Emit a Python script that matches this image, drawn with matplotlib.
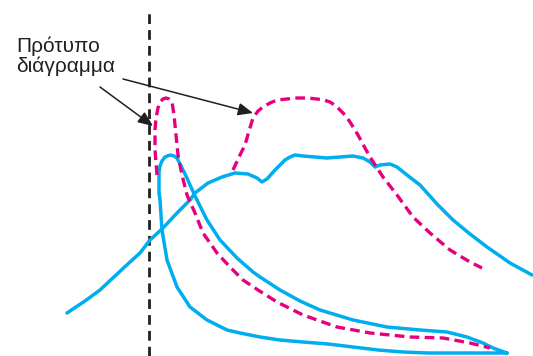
import matplotlib.pyplot as plt

# Curve points (pixel-like units, y grows downward)
peak_narrow_x = [157, 155, 155, 156, 158, 160, 163, 166, 169, 172, 174, 176, 178, 182, 187, 195,
                 203, 217, 230, 243, 258, 277, 303, 337, 370, 410, 443, 470, 490]
peak_narrow_y = [175, 150, 130, 118, 108, 102, 99, 98, 99, 102, 115, 135, 155, 175, 195, 213,
                 233, 253, 267, 280, 290, 302, 315, 327, 333, 337, 338, 343, 348]

peak_broad_x = [233, 240, 245, 249, 253, 258, 263, 270, 277, 287, 297, 307, 317, 324, 330, 336,
                340, 345, 350, 358, 365, 370, 383, 397, 413, 430, 450, 470, 482]
peak_broad_y = [170, 155, 145, 131, 118, 111, 107, 103, 100, 99, 98, 98, 99, 100, 102, 106,
                110, 115, 122, 135, 148, 157, 177, 195, 217, 233, 250, 262, 268]

blue_broad_x = [67, 85, 100, 115, 130, 140, 150, 163, 177, 190, 195, 208, 222, 235, 248, 257,
                262, 267, 275, 285, 290, 295, 303, 315, 327, 340, 353, 363, 370, 375, 380,
                390, 397, 407, 420, 437, 453, 470, 487, 500, 510, 521, 532]
blue_broad_y = [313, 301, 290, 276, 262, 253, 240, 228, 213, 200, 193, 183, 177, 173, 174, 178,
                182, 179, 170, 160, 157, 155, 156, 157, 158, 157, 156, 158, 162, 167, 165,
                164, 167, 175, 185, 204, 220, 234, 247, 256, 263, 269, 275]

blue_loop_x = [507, 480, 453, 428, 403, 378, 353, 328, 303, 280, 260, 240, 227, 207, 190, 177,
               167, 162, 160, 159, 159, 159, 160, 162, 165, 170, 174, 177, 180, 183, 187, 190,
               195, 197, 207, 220, 237, 253, 260, 280, 300, 320, 353, 387, 420, 447, 467, 483,
               493, 507]
blue_loop_y = [353, 353, 353, 353, 352, 350, 347, 344, 342, 340, 337, 333, 330, 320, 307, 287,
               260, 230, 200, 192, 182, 172, 166, 161, 157, 155, 156, 158, 164, 170, 178, 185,
               196, 200, 220, 240, 258, 272, 277, 290, 301, 310, 320, 327, 330, 332, 337, 343,
               348, 353]

label = "Πρότυπο\nδιάγραμμα"

blue = "#00aeef"
magenta = "#e6007e"

fig = plt.figure(figsize=(5.33, 3.56), dpi=100)
ax = fig.add_axes([0, 0, 1, 1])
ax.set_xlim(0, 533)
ax.set_ylim(356, 0)
ax.axis("off")

ax.axvline(149, ymin=0, ymax=1 - 10 / 356, color="#231f20", lw=2.0, ls=(0, (3.5, 2.2)))

ax.plot(blue_broad_x, blue_broad_y, color=blue, lw=2.5, solid_joinstyle="round",
        solid_capstyle="round")
ax.plot(blue_loop_x, blue_loop_y, color=blue, lw=2.5, solid_joinstyle="round",
        solid_capstyle="round")
ax.plot(peak_narrow_x, peak_narrow_y, color=magenta, lw=2.4, ls=(0, (2.9, 1.6)))
ax.plot(peak_broad_x, peak_broad_y, color=magenta, lw=2.4, ls=(0, (2.9, 1.6)))

ax.text(16, 37, label, fontsize=15, family=["Liberation Sans", "DejaVu Sans"],
        va="top", ha="left", color="#231f20", linespacing=1.0)

arrow = dict(arrowstyle="-|>,head_length=0.9,head_width=0.38", color="#231f20", lw=1.1,
             shrinkA=0, shrinkB=0)
ax.annotate("", xy=(153, 126), xytext=(100, 87), arrowprops=arrow)
ax.annotate("", xy=(253, 113), xytext=(123, 79), arrowprops=arrow)

fig.savefig("out.png", dpi=100)
